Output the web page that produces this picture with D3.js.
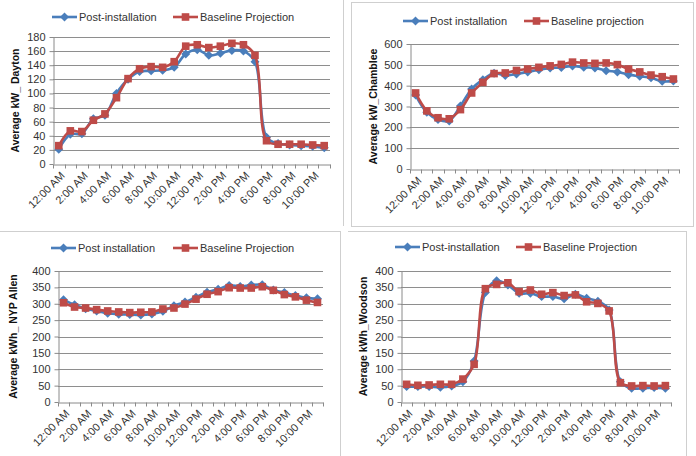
<!DOCTYPE html>
<html>
<head>
<meta charset="utf-8">
<script src="https://cdn.jsdelivr.net/npm/d3@7"></script>
<style>
body { margin: 0; background: #fff; }
svg { display: block; font-family: "Liberation Sans", Arial, sans-serif; }
</style>
</head>
<body>
<svg id="chart"></svg>
<script>
/////////////// data ////////////////
// 24 hourly categories, labels shown every 2 hours
const HOURS = ["12:00 AM", "1:00 AM", "2:00 AM", "3:00 AM", "4:00 AM", "5:00 AM",
    "6:00 AM", "7:00 AM", "8:00 AM", "9:00 AM", "10:00 AM", "11:00 AM",
    "12:00 PM", "1:00 PM", "2:00 PM", "3:00 PM", "4:00 PM", "5:00 PM",
    "6:00 PM", "7:00 PM", "8:00 PM", "9:00 PM", "10:00 PM", "11:00 PM"];
const DAYTON_POST = [21, 42, 43, 64, 69, 100, 120, 131, 132, 133, 137, 156,
    162, 154, 157, 161, 160, 145, 38, 29, 27, 26, 25, 23];
const DAYTON_BASE = [26, 47, 46, 62, 71, 94, 121, 135, 138, 137, 145, 167,
    169, 165, 167, 171, 169, 154, 33, 28, 28, 28, 27, 26];
const CHAMBLEE_POST = [355, 272, 238, 231, 303, 384, 429, 460, 449, 456, 466, 476,
    485, 487, 495, 488, 485, 472, 466, 453, 445, 438, 421, 423];
const CHAMBLEE_BASE = [365, 279, 246, 241, 285, 365, 416, 458, 461, 473, 480, 488,
    495, 502, 513, 509, 507, 509, 501, 480, 466, 451, 443, 432];
const ALLEN_POST = [312, 297, 285, 278, 271, 268, 267, 266, 269, 277, 294, 305,
    320, 335, 344, 356, 353, 357, 358, 342, 334, 325, 318, 315];
const ALLEN_BASE = [303, 290, 287, 282, 278, 275, 273, 274, 275, 284, 287, 299,
    314, 329, 337, 349, 348, 348, 352, 341, 328, 321, 311, 304];
const WOODSON_POST = [47, 47, 47, 45, 49, 62, 125, 334, 370, 357, 332, 332,
    322, 322, 315, 329, 317, 308, 281, 62, 42, 42, 44, 42];
const WOODSON_BASE = [54, 51, 52, 54, 54, 70, 115, 346, 359, 364, 337, 342,
    329, 334, 325, 327, 306, 301, 278, 59, 49, 50, 49, 50];
const Y_TITLES = ["Average kW_ Dayton", "Average kW_Chamblee", "Average kWh_ NYP Allen", "Average kWh_Woodson"];
const POST_NAMES = ["Post-installation", "Post installation", "Post installation", "Post-installation"];
const BASE_NAMES = ["Baseline Projection", "Baseline projection", "Baseline Projection", "Baseline Projection"];
const Y_MAX = [180, 600, 400, 400];
const Y_STEP = [20, 100, 50, 50];

/////////////// layout ////////////////
const W = 696;
const H = 456;
const BLUE = "#4a7ebb";
const RED = "#be4b48";
const GRID = "#8e8e8e";
const AXIS = "#8a8a8a";
const TXT = "#333";
const LAYOUT = [
    { l: 53, r: 330, t: 37, b: 164, titleX: 15, legY: 17, leg1: 52, leg2: 173 },
    { l: 410, r: 679, t: 44, b: 169, titleX: 373, legY: 21, leg1: 403, leg2: 524 },
    { l: 58, r: 323, t: 271, b: 402, titleX: 13, legY: 248, leg1: 51, leg2: 173 },
    { l: 401, r: 671, t: 271, b: 402, titleX: 363, legY: 247, leg1: 395, leg2: 516 }
];
const SERIES = [
    [DAYTON_POST, DAYTON_BASE],
    [CHAMBLEE_POST, CHAMBLEE_BASE],
    [ALLEN_POST, ALLEN_BASE],
    [WOODSON_POST, WOODSON_BASE]
];

const SVG = d3.select("#chart")
    .attr("width", W)
    .attr("height", H);

// panel frames (the picture is four screenshots pasted together)
const FRAME_GRP = SVG.append("g").attr("fill", "none").attr("stroke", "#cfcfcf");
FRAME_GRP.append("line").attr("x1", 343.5).attr("x2", 343.5).attr("y1", 0).attr("y2", 226);
FRAME_GRP.append("rect").attr("x", 351.5).attr("y", 2.5).attr("width", 342).attr("height", 224);
FRAME_GRP.append("line").attr("x1", 0).attr("x2", 340).attr("y1", 231.5).attr("y2", 231.5);
FRAME_GRP.append("line").attr("x1", 340.5).attr("x2", 340.5).attr("y1", 231).attr("y2", H);
FRAME_GRP.append("line").attr("x1", 348).attr("x2", 686).attr("y1", 231.5).attr("y2", 231.5);
FRAME_GRP.append("line").attr("x1", 686.5).attr("x2", 686.5).attr("y1", 231).attr("y2", H);

const DIAMOND = "M0,-4.5L4.5,0L0,4.5L-4.5,0Z";
const SQUARE = "M-3.8,-3.8H3.8V3.8H-3.8Z";

function drawSeries(grp, vals, x, y, color, marker) {
    const line = d3.line()
        .x((d, i) => x(HOURS[i]) + x.bandwidth() / 2)
        .y(d => y(d))
        .curve(d3.curveCatmullRom.alpha(0.5));
    grp.append("path")
        .datum(vals)
        .attr("d", line)
        .attr("fill", "none")
        .attr("stroke", color)
        .attr("stroke-width", 2.6);
    grp.selectAll(null)
        .data(vals)
        .enter()
        .append("path")
        .attr("d", marker)
        .attr("fill", color)
        .attr("transform", (d, i) => `translate(${x(HOURS[i]) + x.bandwidth() / 2}, ${y(d)})`);
}

function drawLegend(grp, lx, ly, color, marker, name) {
    grp.append("line")
        .attr("x1", lx).attr("x2", lx + 25)
        .attr("y1", ly).attr("y2", ly)
        .attr("stroke", color)
        .attr("stroke-width", 2.6);
    grp.append("path")
        .attr("d", marker)
        .attr("fill", color)
        .attr("transform", `translate(${lx + 12.5}, ${ly})`);
    grp.append("text")
        .attr("x", lx + 27)
        .attr("y", ly)
        .attr("dy", "0.35em")
        .attr("font-size", 11)
        .attr("fill", TXT)
        .text(name);
}

function drawPanel(k) {
    const p = LAYOUT[k];
    const grp = SVG.append("g").attr("id", `panel${k}`);
    const x = d3.scaleBand().domain(HOURS).range([p.l, p.r]);
    const y = d3.scaleLinear().domain([0, Y_MAX[k]]).range([p.b, p.t]);
    const yTicks = d3.range(0, Y_MAX[k] + 1, Y_STEP[k]);
    // gridlines
    grp.append("g")
        .selectAll("line")
        .data(yTicks.slice(1))
        .enter()
        .append("line")
        .attr("x1", p.l).attr("x2", p.r)
        .attr("y1", d => Math.round(y(d)) + 0.5)
        .attr("y2", d => Math.round(y(d)) + 0.5)
        .attr("stroke", GRID);
    // y axis
    const yAx = grp.append("g")
        .attr("transform", `translate(${p.l + 0.5}, 0)`)
        .call(d3.axisLeft(y).tickValues(yTicks).tickSize(4).tickPadding(4).tickSizeOuter(0));
    yAx.select(".domain").attr("stroke", AXIS);
    yAx.selectAll(".tick line").attr("stroke", AXIS);
    yAx.selectAll("text").attr("font-size", 11).attr("fill", TXT).attr("font-family", null);
    // x axis: labels every other hour, tick marks on band edges
    const xAx = grp.append("g")
        .attr("transform", `translate(0, ${Math.round(p.b) + 0.5})`)
        .call(d3.axisBottom(x).tickValues(HOURS.filter((d, i) => i % 2 == 0)).tickSize(0).tickSizeOuter(0));
    xAx.select(".domain").attr("stroke", AXIS);
    xAx.selectAll("text")
        .attr("font-size", 11)
        .attr("font-family", null)
        .attr("fill", TXT)
        .attr("text-anchor", "end")
        .attr("y", 0)
        .attr("dy", "0.35em")
        .attr("transform", "translate(4, 9) rotate(-45)");
    xAx.selectAll(".edge")
        .data(d3.range(HOURS.length + 1))
        .enter()
        .append("line")
        .attr("class", "edge")
        .attr("x1", i => Math.round(p.l + i * x.step()) + 0.5)
        .attr("x2", i => Math.round(p.l + i * x.step()) + 0.5)
        .attr("y1", 0).attr("y2", 4)
        .attr("stroke", AXIS);
    // y title
    grp.append("text")
        .attr("transform", `translate(${p.titleX}, ${(p.t + p.b) / 2}) rotate(-90)`)
        .attr("text-anchor", "middle")
        .attr("dy", "0.35em")
        .attr("font-size", 10.5)
        .attr("font-weight", "bold")
        .attr("fill", "#111")
        .text(Y_TITLES[k]);
    // series, baseline drawn on top
    drawSeries(grp, SERIES[k][0], x, y, BLUE, DIAMOND);
    drawSeries(grp, SERIES[k][1], x, y, RED, SQUARE);
    // legend
    drawLegend(grp, p.leg1, p.legY, BLUE, DIAMOND, POST_NAMES[k]);
    drawLegend(grp, p.leg2, p.legY, RED, SQUARE, BASE_NAMES[k]);
}

for (let k = 0; k < LAYOUT.length; k++) {
    drawPanel(k);
}
</script>
</body>
</html>
